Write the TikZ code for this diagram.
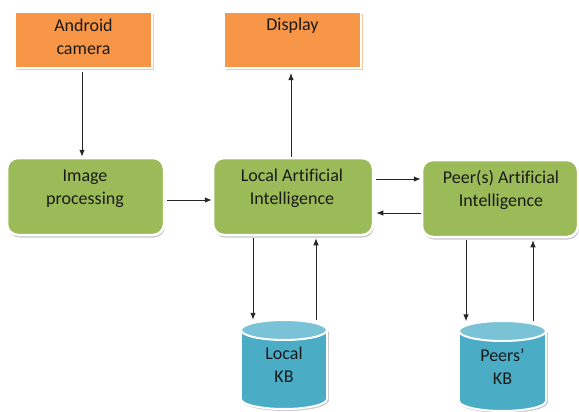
\documentclass[tikz,border=0pt]{standalone}
\usepackage{fontspec}
\setmainfont{Carlito}[Ligatures=NoCommon]
\usetikzlibrary{arrows.meta,shadows,backgrounds}
\definecolor{orangeF}{HTML}{F79646}
\definecolor{greenF}{HTML}{9BBB59}
\definecolor{kbbodyC}{HTML}{4BACC6}
\definecolor{kbtopC}{HTML}{7AC2D6}
\definecolor{txtC}{HTML}{1A1A1A}
\newcommand{\kbcyl}[4]{%
  \begin{scope}[shift={(1.5,2)}, fill=black, opacity=.2]
    \fill (#1-#4,#2+10) rectangle (#1+#4,#3-10);
    \fill (#1,#3-10) ellipse [x radius=#4, y radius=10];
    \fill (#1,#2+10) ellipse [x radius=#4, y radius=10];
  \end{scope}
  \fill[kbbodyC] (#1-#4,#2+10) rectangle (#1+#4,#3-10);
  \fill[kbbodyC] (#1,#3-10) ellipse [x radius=#4, y radius=10];
  \fill[kbtopC] (#1,#2+10) ellipse [x radius=#4, y radius=10];
  \draw[kbline] (#1,#2+10) ellipse [x radius=#4, y radius=10];
  \draw[kbline] (#1-#4,#2+10) -- (#1-#4,#3-10);
  \draw[kbline] (#1+#4,#2+10) -- (#1+#4,#3-10);
  \begin{scope}
    \clip (#1-#4-4,#3-10) rectangle (#1+#4+4,#3+4);
    \draw[kbline] (#1,#3-10) ellipse [x radius=#4, y radius=10];
  \end{scope}
}
\begin{document}
\begin{tikzpicture}[x=1pt,y=-1pt,
  obox/.style={rectangle, fill=orangeF, draw=white, line width=2.2pt,
    minimum width=137pt, minimum height=56pt, inner sep=0pt,
    drop shadow={shadow xshift=2pt, shadow yshift=-2pt, fill=orangeF!55!brown, opacity=.45}},
  gbox/.style={rectangle, rounded corners=11pt, fill=greenF, draw=white, line width=2.5pt,
    inner sep=0pt,
    drop shadow={shadow xshift=1pt, shadow yshift=-2.5pt, fill=black, opacity=.22}},
  txt/.style={align=center, font=\fontsize{18}{23}\selectfont, text=txtC, inner sep=0pt},
  kbnode/.style={txt, minimum width=86pt, inner sep=0pt},
  kbline/.style={draw=white, line width=2pt},
  arr/.style={draw=black!85, line width=0.9pt, -{Latex[length=7pt,width=5.5pt]}}
]
\useasboundingbox (0,0) rectangle (579,412);
\fill[white] (0,0) rectangle (579,412);

% orange boxes
\node[obox] (cam) at (83.5,40) {};
\node[txt] (camT) at (83.5,37) {Android\\camera};
\node[obox] (disp) at (292.5,40) {};
\node[txt] (dispT) at (292.5,26) {Display};

% green boxes
\node[gbox, minimum width=157pt, minimum height=77pt] (img) at (85.5,196.5) {};
\node[txt] (imgT) at (85,188.5) {Image\\processing};
\node[gbox, minimum width=160pt, minimum height=77pt] (lai) at (293,196.5) {};
\node[txt] (laiT) at (292,188.5) {Local Artificial\\Intelligence};
\node[gbox, minimum width=156pt, minimum height=77pt] (peer) at (500,198.5) {};
\node[txt] (peerT) at (501,189.5) {Peer(s) Artificial\\Intelligence};

% knowledge bases
\kbcyl{284}{320}{409}{43}
\node[kbnode, minimum height=89pt] (lkb) at (284,364.5) {Local\\KB};
\kbcyl{502.5}{321}{411}{43.5}
\node[kbnode, minimum height=90pt] (pkb) at (502.5,366.5) {Peers\char"0027\\KB};

% connectors
\draw[arr] (cam.south -| 82,0) ++(0,3) -- (img.north -| 82,0);
\draw[arr] (lai.north -| 291,0) -- ([yshift=-4pt]disp.south -| 291,0);
\draw[arr] (img.east |- 0,200) ++(2,0) -- (lai.west |- 0,200);
\draw[arr] (lai.east |- 0,179) ++(2,0) -- (peer.west |- 0,179);
\draw[arr] (peer.west |- 0,213) -- ([xshift=2pt]lai.east |- 0,213);
\draw[arr] (lai.south -| 253,0) ++(0,2) -- (lkb.north -| 253,0);
\draw[arr] (lkb.north -| 316,0) -- ([yshift=-2pt]lai.south -| 316,0);
\draw[arr] (peer.south -| 466,0) ++(0,2) -- (pkb.north -| 466,0);
\draw[arr] (pkb.north -| 533,0) -- ([yshift=-2pt]peer.south -| 533,0);
\end{tikzpicture}
\end{document}
